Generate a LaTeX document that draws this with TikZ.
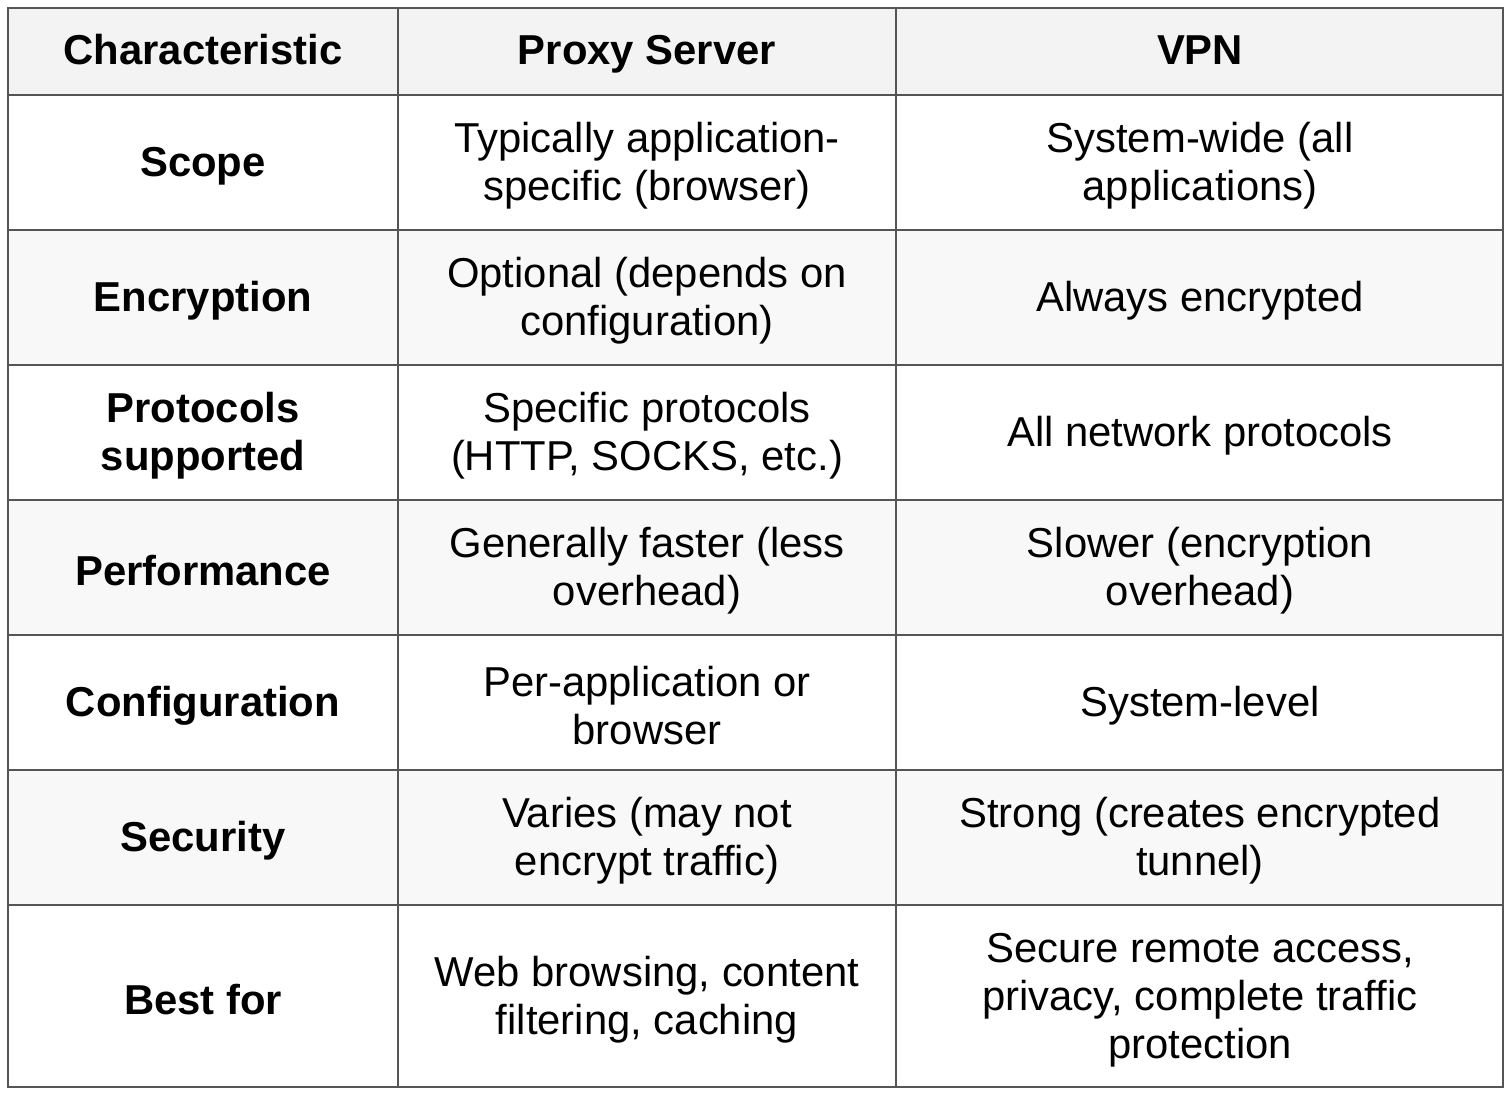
\documentclass[tikz,border=0pt]{standalone}
\usepackage{fontspec}
\setmainfont{Liberation Sans}
\definecolor{gridline}{HTML}{555555}
\definecolor{headfill}{HTML}{F3F3F3}
\definecolor{rowfill}{HTML}{F8F8F8}
\begin{document}
\begin{tikzpicture}[x=0.02cm,y=-0.02cm,
    cell/.style={align=center,font=\fontsize{23.8}{27.3}\selectfont,inner sep=0pt,yshift=-0.08cm},
    head/.style={cell,font=\fontsize{23.8}{27.3}\selectfont\bfseries}]
   \useasboundingbox (0,0) rectangle (1512,1095);
   % shaded rows
   \fill[headfill] (8,8) rectangle (1503,95);
   \fill[rowfill] (8,230) rectangle (1503,365);
   \fill[rowfill] (8,500) rectangle (1503,635);
   \fill[rowfill] (8,770) rectangle (1503,905);
   % grid
   \draw[gridline,line width=1.3pt] (8,8) rectangle (1503,1087);
   \foreach \x in {398,896}
      \draw[gridline,line width=1.3pt] (\x,8) -- (\x,1087);
   \foreach \y in {95,230,365,500,635,770,905}
      \draw[gridline,line width=1.3pt] (8,\y) -- (1503,\y);
   % header
   \node[head,anchor=base,yshift=0.08cm] (h_c) at (203,65) {Characteristic};
   \node[head,anchor=base,yshift=0.08cm] (h_p) at (647,65) {Proxy Server};
   \node[head,anchor=base,yshift=0.08cm] (h_v) at (1200,65) {VPN};
   % rows
   \node[head] (c_1) at (203,162) {Scope};
   \node[cell] (p_1) at (647,162) {Typically application-\\specific (browser)};
   \node[cell] (v_1) at (1200,162) {System-wide (all\\applications)};
   \node[head] (c_2) at (203,297) {Encryption};
   \node[cell] (p_2) at (647,297) {Optional (depends on\\configuration)};
   \node[cell] (v_2) at (1200,297) {Always encrypted};
   \node[head] (c_3) at (203,432) {Protocols\\supported};
   \node[cell] (p_3) at (647,432) {Specific protocols\\(HTTP, SOCKS, etc.)};
   \node[cell] (v_3) at (1200,432) {All network protocols};
   \node[head] (c_4) at (203,567) {Performance};
   \node[cell] (p_4) at (647,567) {Generally faster (less\\overhead)};
   \node[cell] (v_4) at (1200,567) {Slower (encryption\\overhead)};
   \node[head] (c_5) at (203,702) {Configuration};
   \node[cell] (p_5) at (647,702) {Per-application or\\browser};
   \node[cell] (v_5) at (1200,702) {System-level};
   \node[head] (c_6) at (203,837) {Security};
   \node[cell] (p_6) at (647,837) {Varies (may not\\encrypt traffic)};
   \node[cell] (v_6) at (1200,837) {Strong (creates encrypted\\tunnel)};
   \node[head] (c_7) at (203,996) {Best for};
   \node[cell] (p_7) at (647,996) {Web browsing, content\\filtering, caching};
   \node[cell] (v_7) at (1200,996) {Secure remote access,\\privacy, complete traffic\\protection};
\end{tikzpicture}
\end{document}
